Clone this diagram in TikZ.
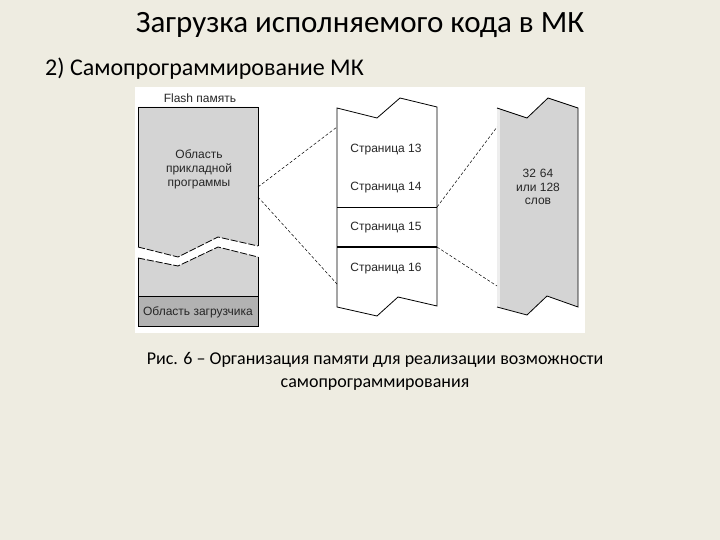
\documentclass[tikz,border=0pt]{standalone}
\usepackage{fontspec}
\setmainfont{Carlito}
\newfontfamily\arialf{Liberation Sans}
\definecolor{bg}{HTML}{EEECE1}
\definecolor{lgray}{HTML}{D4D4D4}
\definecolor{dgray}{HTML}{B2B2B2}
\begin{document}
\begin{tikzpicture}[x=1pt,y=-1pt,
  edge/.style={draw=black,line width=0.7pt},
  zig/.style={draw=black,line width=0.8pt,dash pattern=on 7pt off 2pt},
  conn/.style={draw=black,line width=0.5pt,dash pattern=on 3pt off 2pt},
  lbl/.style={font=\arialf\fontsize{12}{14}\selectfont,anchor=base,inner sep=0pt,text=black!85},
  ttl/.style={font=\fontsize{31}{36}\selectfont,anchor=base,inner sep=0pt}]
\useasboundingbox (0,0) rectangle (720,540);
\fill[bg] (0,0) rectangle (720,540);
\fill[white] (135,87) rectangle (585,333);

% titles
\node[ttl] (title) at (360,33) {Загрузка исполняемого кода в МК};
\node[font=\fontsize{24}{28}\selectfont,anchor=base west,inner sep=0pt] (sub) at (45,76) {2) Самопрограммирование МК};
\node[font=\fontsize{18}{22}\selectfont,anchor=base,inner sep=0pt] (cap1) at (375,364) {Рис. 6 – Организация памяти для реализации возможности};
\node[font=\fontsize{18}{22}\selectfont,anchor=base,inner sep=0pt] (cap2) at (375,387) {самопрограммирования};

% left block (Flash)
\coordinate (LT) at (138,107); \coordinate (RT) at (258,107);
\coordinate (U1) at (138,247); \coordinate (U2) at (178,257); \coordinate (U3) at (218,237); \coordinate (U4) at (258,246);
\coordinate (L1) at (138,258); \coordinate (L2) at (178,266); \coordinate (L3) at (218,247); \coordinate (L4) at (258,257);
\coordinate (ML) at (138,296); \coordinate (MR) at (258,296);
\coordinate (LB) at (138,326); \coordinate (RB) at (258,326);
\fill[lgray] (LT) -- (RT) -- (U4) -- (U3) -- (U2) -- (U1) -- cycle;
\fill[lgray] (L1) -- (L2) -- (L3) -- (L4) -- (MR) -- (ML) -- cycle;
\fill[dgray] (ML) rectangle (RB);
\draw[edge] (U1) -- (LT) -- (RT) -- (U4);
\draw[zig] (U1) -- (U2) -- (U3) -- (U4);
\draw[zig] (L1) -- (L2) -- (L3) -- (L4);
\draw[edge] (L4) -- (RB) -- (LB) -- (L1);
\draw[edge] (ML) -- (MR);
\node[lbl] (flash) at (200,103) {Flash память};
\node[lbl] (app1) at (199,159) {Область};
\node[lbl] (app2) at (199,173) {прикладной};
\node[lbl] (app3) at (199,187) {программы};
\node[lbl] (boot) at (198,315) {Область загрузчика};

% middle column (pages)
\coordinate (MT1) at (337,108); \coordinate (MT2) at (377,118); \coordinate (MT3) at (400,98); \coordinate (MT4) at (437,107);
\coordinate (MB1) at (337,307); \coordinate (MB2) at (377,316); \coordinate (MB3) at (398,297); \coordinate (MB4) at (437,306);
\coordinate (P15L) at (337,207); \coordinate (P15R) at (437,207);
\coordinate (P16L) at (337,247); \coordinate (P16R) at (437,247);
\draw[edge,line width=0.8pt] (MB1) -- (MT1) -- (MT2) -- (MT3) -- (MT4) -- (MB4) -- (MB3) -- (MB2) -- cycle;
\draw[edge,line width=0.8pt] (P15L) -- (P15R);
\draw[edge,line width=1.6pt] (P16L) -- (P16R);
\node[lbl] (p13) at (386,152.5) {Страница 13};
\node[lbl] (p14) at (386,190.5) {Страница 14};
\node[lbl] (p15) at (386,230) {Страница 15};
\node[lbl] (p16) at (386,271) {Страница 16};

% right column (words)
\coordinate (RT1) at (497,108); \coordinate (RT2) at (527,118); \coordinate (RT3) at (548,98); \coordinate (RT4) at (578,108);
\coordinate (RB1) at (497,307); \coordinate (RB2) at (527,315); \coordinate (RB3) at (547,296); \coordinate (RB4) at (578,307);
\fill[lgray] (RT1) -- (RT2) -- (RT3) -- (RT4) -- (RB4) -- (RB3) -- (RB2) -- (RB1) -- cycle;
\fill[white!60!lgray] (RT1) -- ([xshift=3pt]RT1) -- ([xshift=3pt]RB1) -- (RB1) -- cycle;
\draw[edge,line width=0.8pt] (RT1) -- (RT2) -- (RT3) -- (RT4) -- (RB4) -- (RB3) -- (RB2) -- (RB1);
\node[lbl] (w1) at (538,178) {32\hspace{4pt}64};
\node[lbl] (w2) at (538,192) {или 128};
\node[lbl] (w3) at (538,205) {слов};

% zoom connectors
\coordinate (A1) at (258,187); \coordinate (A2) at (258,197);
\coordinate (B1) at (337,127); \coordinate (B2) at (337,284);
\coordinate (C1) at (497,127); \coordinate (C2) at (497,286);
\draw[conn] (A1) -- (B1);
\draw[conn] (A2) -- (B2);
\draw[conn] (P15R) -- (C1);
\draw[conn] (P16R) -- (C2);
\end{tikzpicture}
\end{document}
